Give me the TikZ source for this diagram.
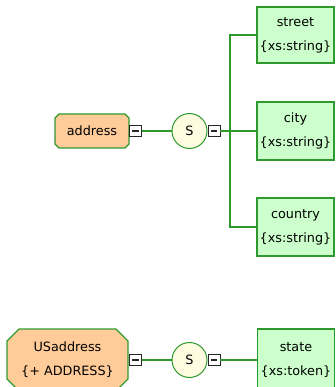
\documentclass[tikz,border=0pt]{standalone}
\usepackage{fontspec}
\setmainfont{DejaVu Sans}
\usetikzlibrary{shapes.misc}
\definecolor{lnk}{HTML}{2E9A2E}
\definecolor{peach}{HTML}{FFCC99}
\definecolor{leaf}{HTML}{CCFFCC}
\definecolor{cream}{HTML}{FFFBE0}
\definecolor{txt}{HTML}{000000}
\tikzset{
  every node/.style={font=\fontsize{12.8}{24}\selectfont, text=txt},
  elem/.style={chamfered rectangle, chamfered rectangle xsep=2pt, chamfered rectangle ysep=2pt,
    draw=lnk, line width=1.2pt, fill=peach, inner sep=0pt},
  leafbox/.style={rectangle, draw=lnk, line width=1.2pt, fill=leaf, minimum width=77pt, align=center, inner sep=0pt},
  seqc/.style={circle, draw=lnk, line width=1pt, fill=cream, minimum size=35pt, inner sep=0pt},
  minusbox/.style={rectangle, draw=black!85, line width=0.9pt, fill=white, minimum width=12pt, minimum height=11pt, inner sep=0pt,
    path picture={\draw[black!85, line width=1.1pt] ([xshift=-3.2pt]path picture bounding box.center) -- ([xshift=3.2pt]path picture bounding box.center);}},
  conn/.style={draw=lnk, line width=1.3pt}
}
\begin{document}
\begin{tikzpicture}[x=1pt,y=-1pt]
\useasboundingbox (0,0) rectangle (336,387);
% first tree
\node[elem, minimum width=74pt, minimum height=34pt] (addr) at (92,131) {address};
\node[minusbox] (m1) at (135.5,131) {};
\node[seqc] (s1) at (189.5,131) {S};
\node[minusbox] (m2) at (214,131) {};
\coordinate (bus) at (230,131);
\node[leafbox, minimum height=56pt] (street) at (295.5,35) {street\\\{xs:string\}};
\node[leafbox, minimum height=58pt] (city) at (295.5,131) {city\\\{xs:string\}};
\node[leafbox, minimum height=58pt] (country) at (295.5,227) {country\\\{xs:string\}};
\draw[conn] (m1) -- (s1);
\draw[conn] (m2) -- (bus);
\draw[conn] (street.west) -| (bus) |- (country.west);
\draw[conn] (bus) -- (city.west);
% second tree
\node[elem, chamfered rectangle xsep=6pt, chamfered rectangle ysep=6pt, minimum width=121pt, minimum height=62pt, align=center] (usa) at (67.5,360) {USaddress\\\{+ ADDRESS\}};
\node[minusbox] (m3) at (135.5,360) {};
\node[seqc] (s2) at (189.5,360) {S};
\node[minusbox] (m4) at (214,360) {};
\node[leafbox, minimum height=62pt] (state) at (296,360) {state\\\{xs:token\}};
\draw[conn] (m3) -- (s2);
\draw[conn] (m4) -- (state.west);
\end{tikzpicture}
\end{document}
